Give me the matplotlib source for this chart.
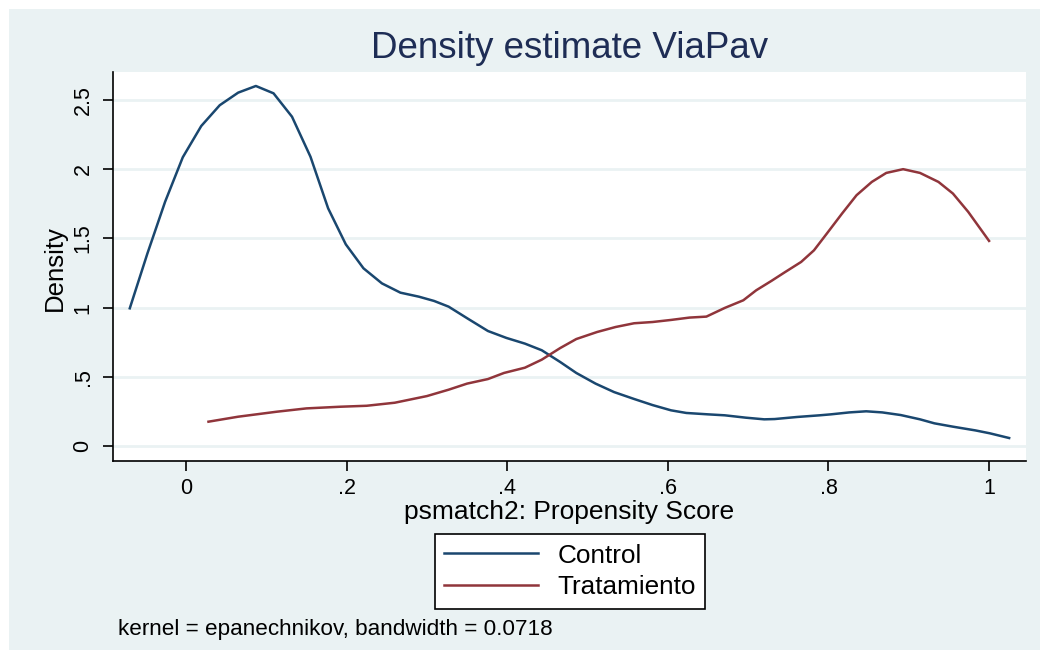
import matplotlib
matplotlib.use("Agg")
import matplotlib.pyplot as plt
from matplotlib.patches import Rectangle

plt.rcParams['font.family'] = ['Liberation Sans', 'DejaVu Sans']

# ---- data ----
control_x = [-0.070, -0.048, -0.026, -0.004, 0.019, 0.042, 0.065, 0.087, 0.109,
             0.132, 0.155, 0.177, 0.199, 0.221, 0.244, 0.267, 0.290, 0.309, 0.327,
             0.351, 0.376, 0.399, 0.422, 0.443, 0.466, 0.486, 0.510, 0.533, 0.558,
             0.581, 0.604, 0.623, 0.650, 0.671, 0.697, 0.720, 0.733, 0.761, 0.789,
             0.803, 0.826, 0.847, 0.867, 0.890, 0.914, 0.932, 0.955, 0.983, 1.001, 1.025]
control_y = [0.995, 1.392, 1.765, 2.086, 2.312, 2.462, 2.553, 2.601, 2.548,
             2.379, 2.090, 1.717, 1.457, 1.284, 1.175, 1.108, 1.079, 1.048, 1.007,
             0.920, 0.831, 0.781, 0.740, 0.692, 0.607, 0.528, 0.451, 0.390, 0.340,
             0.296, 0.258, 0.239, 0.229, 0.222, 0.205, 0.193, 0.195, 0.210, 0.222,
             0.229, 0.243, 0.251, 0.243, 0.224, 0.193, 0.164, 0.140, 0.113, 0.092, 0.058]

treat_x = [0.028, 0.065, 0.113, 0.150, 0.192, 0.225, 0.260, 0.300, 0.327,
           0.350, 0.376, 0.396, 0.422, 0.443, 0.466, 0.486, 0.512, 0.535, 0.558,
           0.581, 0.604, 0.627, 0.648, 0.671, 0.694, 0.710, 0.729, 0.745, 0.766,
           0.782, 0.798, 0.817, 0.835, 0.854, 0.872, 0.893, 0.914, 0.937, 0.955,
           0.974, 1.000]
treat_y = [0.176, 0.212, 0.248, 0.272, 0.284, 0.291, 0.313, 0.361, 0.407,
           0.451, 0.484, 0.528, 0.566, 0.624, 0.708, 0.773, 0.824, 0.860, 0.887,
           0.896, 0.911, 0.928, 0.935, 0.998, 1.053, 1.125, 1.193, 1.253, 1.330,
           1.414, 1.535, 1.680, 1.812, 1.908, 1.973, 2.000, 1.973, 1.908, 1.824,
           1.692, 1.482]

xticks = [0, 0.2, 0.4, 0.6, 0.8, 1.0]
xtick_labels = ["0", ".2", ".4", ".6", ".8", "1"]
yticks = [0, 0.5, 1, 1.5, 2, 2.5]
ytick_labels = ["0", ".5", "1", "1.5", "2", "2.5"]

series_labels = ["Control", "Tratamiento"]
title = "Density estimate ViaPav"
xlabel = "psmatch2: Propensity Score"
ylabel = "Density"
note = "kernel = epanechnikov, bandwidth = 0.0718"

# ---- styling ----
W, H = 1046, 658
BG = "#EAF2F3"
NAVY = "#1A476F"
MAROON = "#90353B"
TITLE_C = "#1E2D55"

fig = plt.figure(figsize=(W / 100, H / 100), dpi=100)
fig.patch.set_facecolor("white")
bg = Rectangle((9 / W, 1 - 650 / H), (1040 - 9) / W, (650 - 9) / H,
               transform=fig.transFigure, facecolor=BG, edgecolor="none",
               zorder=-10)
fig.patches.append(bg)

left, right, top, bottom = 113, 1026, 72, 461
ax = fig.add_axes([left / W, 1 - bottom / H, (right - left) / W, (bottom - top) / H])
ax.set_zorder(1)
ax.set_facecolor("white")
ax.set_xlim(-0.0909, 1.0460)
ax.set_ylim(-0.108, 2.702)

for s in ["top", "right"]:
    ax.spines[s].set_visible(False)
for s in ["left", "bottom"]:
    ax.spines[s].set_color("black")
    ax.spines[s].set_linewidth(1.2)

for yv in yticks:
    ax.axhline(yv, color=BG, lw=2.0, zorder=1)

l1, = ax.plot(control_x, control_y, color=NAVY, lw=1.8, zorder=3)
l2, = ax.plot(treat_x, treat_y, color=MAROON, lw=1.8, zorder=3)

ax.set_xticks(xticks)
ax.set_xticklabels(xtick_labels, fontsize=15.5)
ax.set_yticks(yticks)
ax.set_yticklabels(ytick_labels, fontsize=15.5, rotation=90, va="center")
ax.tick_params(axis="both", direction="out", length=7, width=1.2, color="black")
ax.tick_params(axis="x", pad=5.5)
ax.tick_params(axis="y", pad=7)

fig.text((left + right) / 2 / W, 1 - 49 / H, title, ha="center", va="center",
         fontsize=26.5, color=TITLE_C)
fig.text((left + right) / 2 / W, 1 - 512 / H, xlabel, ha="center", va="center",
         fontsize=19, color="black")
fig.text(55 / W, 1 - 268 / H, ylabel, ha="center", va="center", rotation=90,
         fontsize=18.5, color="black")
fig.text(118 / W, 1 - 630 / H, note, ha="left", va="center", fontsize=16.2,
         color="black")

leg = fig.legend([l1, l2], series_labels, loc="center",
                 bbox_to_anchor=(570 / W, 1 - 571.5 / H), fontsize=18.8,
                 frameon=True, fancybox=False, framealpha=1, handlelength=3.6,
                 handletextpad=0.75, borderpad=0.35, labelspacing=0.3,
                 borderaxespad=0)
leg.get_frame().set_edgecolor("black")
leg.get_frame().set_linewidth(1.2)
leg.get_frame().set_facecolor("white")
leg.set_zorder(5)

fig.savefig("out.png", dpi=100, facecolor="white")
